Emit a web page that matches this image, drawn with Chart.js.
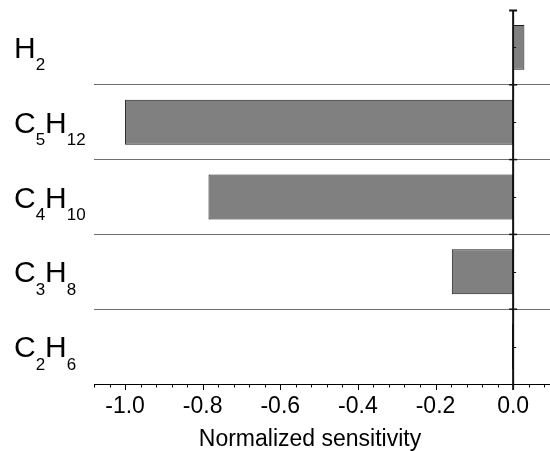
<!DOCTYPE html>
<html>
<head>
<meta charset="utf-8">
<script src="https://cdn.jsdelivr.net/npm/chart.js@4/dist/chart.umd.min.js"></script>
<style>
  html, body { margin: 0; padding: 0; background: #fff; }
  #wrap { width: 550px; height: 451px; }
</style>
</head>
<body>
<div id="wrap"><canvas id="c" width="550" height="451"></canvas></div>
<script>
// Species, top to bottom; subscript digits are drawn smaller and lowered
const species = ['H₂', 'C₅H₁₂', 'C₄H₁₀', 'C₃H₈', 'C₂H₆'];
// Normalized sensitivity of each species
const sensitivity = [0.029, -1.0, -0.785, -0.158, -0.003];
// Labelled ticks of the sensitivity axis
const xTickValues = [-1.0, -0.8, -0.6, -0.4, -0.2, 0.0];
const xTitle = 'Normalized sensitivity';
const xMin = -1.08;
const xMax = 0.095;
const minorStep = 0.04;

const FONT = "'Liberation Sans', Arial, Helvetica, sans-serif";
const SUBS = '₀₁₂₃₄₅₆₇₈₉';

// Category labels with subscripts, the zero line, axis tick marks and axis title
const decorations = {
  id: 'decorations',
  afterDatasetsDraw(chart) {
    const ctx = chart.ctx;
    const x = chart.scales.x;
    const y = chart.scales.y;
    const area = chart.chartArea;
    const x0 = x.getPixelForValue(0);
    ctx.save();

    // x-axis tick marks (minor and major)
    ctx.strokeStyle = '#000';
    ctx.lineWidth = 1;
    const n = Math.round((xMax - xMin) / minorStep);
    for (let k = 0; k <= n; k++) {
      const v = Math.round((xMin + k * minorStep) * 100) / 100;
      if (v > xMax) break;
      const major = Math.abs(v / 0.2 - Math.round(v / 0.2)) < 1e-6;
      const px = Math.round(x.getPixelForValue(v)) + 0.5;
      ctx.beginPath();
      ctx.moveTo(px, area.bottom);
      ctx.lineTo(px, area.bottom + (major ? 6 : 3.5));
      ctx.stroke();
    }

    // zero line acting as the category axis
    ctx.strokeStyle = '#111';
    ctx.lineWidth = 2;
    ctx.beginPath();
    ctx.moveTo(x0, area.top);
    ctx.lineTo(x0, area.bottom + 6);
    ctx.stroke();
    // cap at the top
    ctx.beginPath();
    ctx.moveTo(x0 - 4, area.top + 0.5);
    ctx.lineTo(x0 + 4, area.top + 0.5);
    ctx.stroke();
    // crossing ticks at the category boundaries, short ticks at centres
    const nCat = species.length;
    const band = (area.bottom - area.top) / nCat;
    ctx.lineWidth = 1.5;
    for (let i = 1; i < nCat; i++) {
      const py = area.top + i * band;
      ctx.beginPath();
      ctx.moveTo(x0 - 4, py);
      ctx.lineTo(x0 + 4, py);
      ctx.stroke();
    }
    ctx.lineWidth = 1;
    for (let i = 0; i < nCat; i++) {
      const py = Math.round(y.getPixelForValue(i)) + 0.5;
      ctx.beginPath();
      ctx.moveTo(x0, py);
      ctx.lineTo(x0 + 3, py);
      ctx.stroke();
    }

    // species labels
    ctx.fillStyle = '#000';
    ctx.textBaseline = 'alphabetic';
    ctx.textAlign = 'left';
    species.forEach((label, i) => {
      const base = y.getPixelForValue(i) + 10.5;
      let px = 14;
      for (const ch of label) {
        const si = SUBS.indexOf(ch);
        if (si >= 0) {
          ctx.font = '17px ' + FONT;
          const t = String(si);
          ctx.fillText(t, px, base + 12.5);
          px += ctx.measureText(t).width;
        } else {
          ctx.font = '30px ' + FONT;
          ctx.fillText(ch, px, base);
          px += ctx.measureText(ch).width;
        }
      }
    });

    // axis title
    ctx.font = '23px ' + FONT;
    ctx.textAlign = 'center';
    ctx.fillText(xTitle, 310, 446);
    ctx.restore();
  }
};

new Chart(document.getElementById('c'), {
  type: 'bar',
  data: {
    labels: species,
    datasets: [{
      data: sensitivity,
      backgroundColor: '#808080',
      borderColor: '#1a1a1a',
      borderWidth: 1,
      borderSkipped: false,
      barPercentage: 0.6,
      categoryPercentage: 1.0
    }]
  },
  options: {
    indexAxis: 'y',
    responsive: false,
    devicePixelRatio: 1,
    animation: false,
    events: [],
    layout: { padding: { top: 10, left: 0, right: 0, bottom: 0 } },
    plugins: { legend: { display: false }, tooltip: { enabled: false } },
    scales: {
      x: {
        type: 'linear',
        min: xMin,
        max: xMax,
        afterBuildTicks(scale) {
          scale.ticks = xTickValues.map(v => ({ value: v }));
        },
        afterFit(scale) { scale.height = 67; },
        grid: { display: false, drawTicks: false },
        border: { display: true, color: '#000', width: 1 },
        ticks: {
          padding: 11,
          color: '#000',
          font: { family: FONT, size: 23, lineHeight: 1 },
          maxRotation: 0,
          autoSkip: false,
          callback: v => v.toFixed(1)
        },
        title: { display: false }
      },
      y: {
        type: 'category',
        afterFit(scale) { scale.width = 94; },
        grid: {
          offset: true,
          drawTicks: false,
          color: ctx => (ctx.index === 0 ? 'rgba(0,0,0,0)' : '#6e6e6e'),
          lineWidth: 1
        },
        border: { display: false },
        ticks: { display: false }
      }
    }
  },
  plugins: [decorations]
});
</script>
</body>
</html>
